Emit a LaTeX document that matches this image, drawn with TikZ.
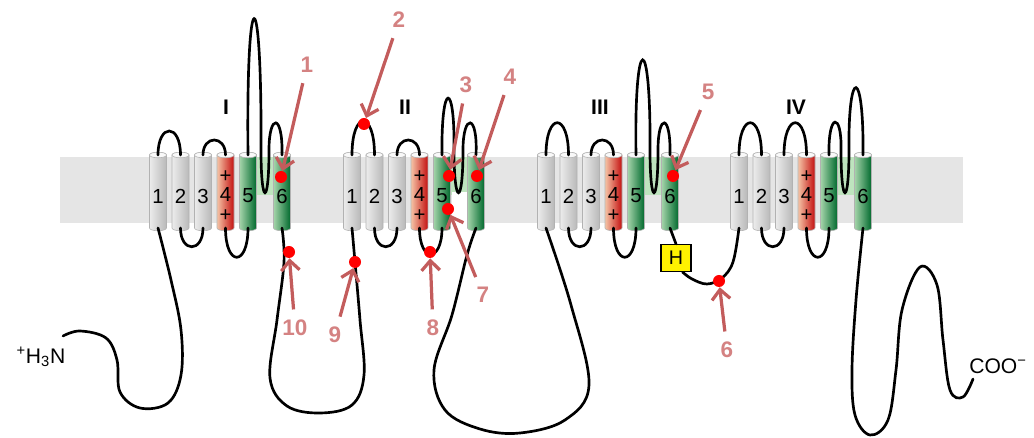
\documentclass[tikz,border=0pt]{standalone}
\usepackage{fontspec}
\setmainfont{Liberation Sans}
\usepackage{xcolor}
\usepackage{tikz}
\usetikzlibrary{arrows.meta}

\definecolor{membgray}{gray}{0.9}
\definecolor{poregreen}{RGB}{190,228,190}
\definecolor{greenL}{RGB}{165,212,170}
\definecolor{greenM}{RGB}{50,155,85}
\definecolor{greenR}{RGB}{0,105,45}
\definecolor{redL}{RGB}{245,195,165}
\definecolor{redM}{RGB}{228,95,75}
\definecolor{redR}{RGB}{195,15,15}
\definecolor{arrowred}{RGB}{195,92,92}
\definecolor{labelred}{RGB}{212,130,130}
\definecolor{siteRed}{RGB}{255,0,0}

% helix: name, x, shading, text
\newcommand{\drawhelix}[4]{%
  \shade[#3, draw=gray!60, line width=0.4pt] ({#2-8.5},155) -- ({#2-8.5},228)
    arc[start angle=180, end angle=360, x radius=0.2125cm, y radius=0.07cm]
    -- ({#2+8.5},155)
    arc[start angle=0, end angle=180, x radius=0.2125cm, y radius=0.07cm] -- cycle;
  \draw[gray!60, fill=gray!5, line width=0.4pt] ({#2},155) ellipse[x radius=0.2125cm, y radius=0.07cm];
  \node[helixbox] (#1) at ({#2},191.5) {};
  \node[helixnum] (#1n) at ({#2},196) {#4};}

\begin{document}
\begin{tikzpicture}[x=0.025cm, y=-0.025cm,
    loopline/.style={draw=black, line width=1.9pt, line cap=round},
    whitehx/.style={left color=gray!15, middle color=white, right color=gray!55},
    redhx/.style={left color=redL, middle color=redM, right color=redR},
    greenhx/.style={left color=greenL, middle color=greenM, right color=greenR},
    helixbox/.style={rectangle, minimum width=0.425cm, minimum height=1.825cm, inner sep=0pt, outer sep=0pt},
    helixnum/.style={align=center, inner sep=0pt, font=\fontsize{14.5}{14}\selectfont},
    site/.style={circle, fill=siteRed, minimum size=0.3cm, inner sep=0pt},
    pinlabel/.style={text=labelred, font=\bfseries\fontsize{16}{16}\selectfont},
    pinarrow/.style={draw=arrowred, line width=2.3pt, -{Straight Barb[length=7pt,width=13pt]}, shorten <=4pt},
    domlabel/.style={font=\bfseries\fontsize{15}{15}\selectfont},
    hbox/.style={draw=black, fill=yellow, line width=0.8pt, minimum width=0.75cm, minimum height=0.675cm, inner sep=0pt, font=\fontsize{14}{14}\selectfont},
    endlabel/.style={font=\fontsize{15}{15}\selectfont}]
    \useasboundingbox (0,0) rectangle (1034,438);

    % Membrane
    \fill[membgray] (60,157) rectangle (963,223);
    \foreach \x in {158,352,546,739}
        \fill[poregreen] ({\x+90},157) rectangle ({\x+124},195);
    \fill[white] (452,192) rectangle (468,223);

    % Helices
    \foreach \d/\x in {a/158,b/352,c/546,d/739}{
        \drawhelix{\d1}{\x}{whitehx}{1}
        \drawhelix{\d2}{\x+22.5}{whitehx}{2}
        \drawhelix{\d3}{\x+45}{whitehx}{3}
        \drawhelix{\d4}{\x+67.5}{redhx}{+\\4\\+}
        \drawhelix{\d5}{\x+90}{greenhx}{5}
        \drawhelix{\d6}{\x+124}{greenhx}{6}
    }

    % Domain labels
    \node[domlabel] (dI) at (226,107) {I};
    \node[domlabel] (dII) at (405,107) {II};
    \node[domlabel] (dIII) at (600,107) {III};
    \node[domlabel] (dIV) at (796,107) {IV};

    % Loops inside each domain
    \foreach \d/\ha/\hb/\hc/\hd in {a/-32/25/-20/39, b/-45/25/-20/35, c/-43/25/-20/39, d/-43/25/-43/39}{
        \draw[loopline] (\d1.north) .. controls +(0,\ha) and +(0,\ha) .. (\d2.north);
        \draw[loopline] (\d2.south) .. controls +(0,\hb) and +(0,\hb) .. (\d3.south);
        \draw[loopline] (\d3.north) .. controls +(0,\hc) and +(0,\hc) .. (\d4.north);
        \draw[loopline] (\d4.south) .. controls +(0,\hd) and +(0,\hd) .. (\d5.south);
    }

    % Pore loops
    \draw[loopline] (a5.north) .. controls (246,-26) and (262,-26) .. (261,150)
        .. controls (261,207) and (269,207) .. (269,150)
        .. controls (269,113) and (283,113) .. (a6.north);
    \draw[loopline] (b5.north) .. controls (441,80) and (455,80) .. (454,150)
        .. controls (454,207) and (463,207) .. (463,150)
        .. controls (463,113) and (478,113) .. (b6.north);
    \draw[loopline] (c5.north) .. controls (634,29) and (651,29) .. (650,150)
        .. controls (650,207) and (658,207) .. (658,150)
        .. controls (658,113) and (671,113) .. (c6.north);
    \draw[loopline] (d5.north) .. controls (828,112) and (842,112) .. (841,150)
        .. controls (841,207) and (849,207) .. (849,150)
        .. controls (848,66) and (864,66) .. (d6.north);

    % Termini
    \node[endlabel] (nterm) at (41,357) {\textsuperscript{+}H\textsubscript{3}N};
    \node[endlabel] (cterm) at (998,366) {COO\textsuperscript{−}};
    \coordinate (nstart) at (63,336);
    \coordinate (cend) at (973,379);

    % Linkers
    \draw[loopline] plot[smooth, tension=0.6] coordinates {(nstart) (80,331) (106,338) (117,360)
        (120,392) (140,408) (168,403) (181,375) (181,330) (171,280) (a1.south)};
    \draw[loopline] plot[smooth, tension=0.6] coordinates {(a6.south) (284,262) (277,320) (270,378)
        (287,406) (320,413) (352,405) (364,375) (360,320) (355,262) (b1.south)};
    \draw[loopline] plot[smooth, tension=0.6] coordinates {(b6.south) (467,255) (452,315) (434,370)
        (445,410) (480,429) (520,433) (565,420) (589,385) (571,305) (c1.south)};
    \node[hbox] (hbox) at (676,258) {H};
    \draw[loopline] (c6.south) -- (hbox.north);
    \draw[loopline] plot[smooth, tension=0.6] coordinates {(hbox.-65) (692,279) (707,284)
        (722,278) (733,262) (d1.south)};
    \draw[loopline] plot[smooth, tension=0.6] coordinates {(d6.south) (856,300) (852,370) (855,415)
        (870,435) (888,420) (896,370) (902,310) (920,267) (937,285) (943,340) (950,390)
        (963,397) (cend)};

    % Sites
    \node[site] (p1) at (281,177) {};
    \node[site] (p2) at (364,124) {};
    \node[site] (p3) at (449,176) {};
    \node[site] (p4) at (477,176) {};
    \node[site] (p5) at (673,176) {};
    \node[site] (p6) at (719,281) {};
    \node[site] (p7) at (448,209) {};
    \node[site] (p8) at (430,252) {};
    \node[site] (p9) at (355,262) {};
    \node[site] (p10) at (289,252) {};

    % Site labels
    \node[pinlabel] (n1) at (307,65) {1};
    \node[pinlabel] (n2) at (399,20) {2};
    \node[pinlabel] (n3) at (466,85) {3};
    \node[pinlabel] (n4) at (510,77) {4};
    \node[pinlabel] (n5) at (708,92) {5};
    \node[pinlabel] (n6) at (727,350) {6};
    \node[pinlabel] (n7) at (483,295) {7};
    \node[pinlabel] (n8) at (433,328) {8};
    \node[pinlabel] (n9) at (335,335) {9};
    \node[pinlabel] (n10) at (295,328) {10};

    \foreach \i in {1,...,10}
        \draw[pinarrow] (n\i) -- (p\i);
\end{tikzpicture}
\end{document}
